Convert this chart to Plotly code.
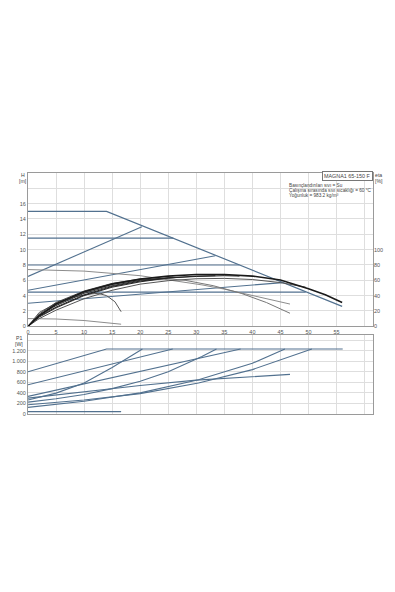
import plotly.graph_objects as go

# ---------------- data ----------------
# Head curves, H [m] vs Q [m3/h]
max_q = [0, 14, 56]
max_h = [15, 15, 2.6]
pp1_q = [0, 20.3]
pp1_h = [6.5, 13.0]
cp1_q = [0, 25.9]
cp1_h = [11.5, 11.5]
cp2_q = [0, 37.7]
cp2_h = [8.0, 8.0]
pp2_q = [0, 33.4]
pp2_h = [4.7, 9.2]
cp3_q = [0, 49.5]
cp3_h = [4.45, 4.45]
pp3_q = [0, 45.4]
pp3_h = [3.0, 5.7]
fix1_q = [0, 10, 20, 25, 31, 35, 40, 44, 46.7]
fix1_h = [7.4, 7.2, 6.6, 6.1, 5.4, 4.85, 4.05, 3.4, 2.9]
fix2_q = [0, 5, 10, 14, 16.6]
fix2_h = [1.0, 0.95, 0.75, 0.5, 0.27]

# Efficiency curves, eta [%] vs Q [m3/h]
eta_max_q = [0, 2, 5, 10, 15, 20, 25, 30, 35, 40, 45, 50, 53, 56]
eta_max_v = [0, 14, 29, 45, 55, 61.5, 65.5, 67.5, 67.5, 65.5, 60.5, 49, 41, 31]
eta_a_q = [0, 2, 5, 10, 15, 20.3]
eta_a_v = [0, 16, 31, 46, 56, 62]
eta_b_q = [0, 2, 5, 10, 15, 20, 25.9]
eta_b_v = [0, 14, 27, 43, 53, 60, 64]
eta_c_q = [0, 2, 5, 10, 15, 20, 25, 30, 33.4]
eta_c_v = [0, 12, 24, 40, 51, 58, 63, 65.5, 66]
eta_d_q = [0, 2, 5, 10, 15, 20, 25, 30, 35, 37.7]
eta_d_v = [0, 13, 25, 41, 52, 59, 63, 65, 66, 65.5]
eta_e_q = [0, 2, 5, 10, 15, 20, 25, 30, 35, 40, 45, 49.5]
eta_e_v = [0, 10, 21, 36, 47, 55, 59.5, 62, 62.5, 61, 57, 51]
eta_f_q = [0, 2, 5, 10, 15, 20, 25, 28, 33, 38, 42.5, 46.7]
eta_f_v = [0, 15, 28, 44, 55, 61, 62, 60, 53, 43, 31, 17]
eta_g_q = [0, 2, 5, 8, 11, 12.5, 14, 15.5, 16.6]
eta_g_v = [0, 18, 30, 38, 42, 43, 40, 32, 19]

# Power curves, P1 [W] vs Q [m3/h]
pmax_q = [0, 14, 56.1]
pmax_p = [800, 1230, 1230]
ppp1_q = [0, 5, 10, 15, 20.4]
ppp1_p = [265, 395, 585, 880, 1230]
pcp1_q = [0, 25.8]
pcp1_p = [553, 1230]
pcp2_q = [0, 31, 37.9]
pcp2_p = [333, 1060, 1230]
ppp2_q = [0, 5, 10, 15, 20, 25, 31, 33.6]
ppp2_p = [225, 290, 370, 480, 620, 800, 1090, 1230]
pcp3_q = [0, 10, 20, 30.4, 40, 50.6]
pcp3_p = [176, 265, 385, 585, 840, 1230]
ppp3_q = [0, 10, 20, 30.4, 40, 45.8]
ppp3_p = [126, 240, 400, 648, 960, 1230]
pfix1_q = [0, 10, 20, 30, 40, 46.7]
pfix1_p = [300, 420, 540, 640, 710, 750]
pfix2_q = [0, 16.6]
pfix2_p = [45, 45]

x_ticks = [0, 5, 10, 15, 20, 25, 30, 35, 40, 45, 50, 55, 60]
x_ticktext = ["0", "5", "10", "15", "20", "25", "30", "35", "40", "45", "50", "55", ""]
h_ticks = [0, 2, 4, 6, 8, 10, 12, 14, 16, 18, 20]
h_ticktext = ["0", "2", "4", "6", "8", "10", "12", "14", "16", "", ""]
eta_ticks = [0, 20, 40, 60, 80, 100]
eta_ticktext = ["0", "20", "40", "60", "80", "100"]
p_ticks = [0, 200, 400, 600, 800, 1000, 1200, 1400]
p_ticktext = ["0", "200", "400", "600", "800", "1.000", "1.200", ""]

# ---------------- styling ----------------
BLUE = "#52718f"
GRAY = "#8c8c8c"
BLACK = "#1a1a1a"
GRID = "#dedede"
FONT = "Liberation Sans"

fig = go.Figure()

def add(q, v, color, width, yaxis="y", xaxis="x"):
    fig.add_trace(go.Scatter(x=q, y=v, mode="lines", xaxis=xaxis, yaxis=yaxis,
                             line=dict(color=color, width=width), hoverinfo="skip",
                             showlegend=False))

# head
for q, h in [(cp1_q, cp1_h), (cp2_q, cp2_h), (cp3_q, cp3_h),
             (pp1_q, pp1_h), (pp2_q, pp2_h), (pp3_q, pp3_h)]:
    add(q, h, BLUE, 1.1)
add(fix1_q, fix1_h, GRAY, 1.0)
add(fix2_q, fix2_h, GRAY, 1.0)

# efficiency (right axis)
for q, e, c, w in [(eta_e_q, eta_e_v, "#555555", 1.0), (eta_f_q, eta_f_v, "#777777", 1.0),
                   (eta_g_q, eta_g_v, "#555555", 1.0), (eta_a_q, eta_a_v, "#444444", 1.0),
                   (eta_b_q, eta_b_v, "#333333", 1.0), (eta_c_q, eta_c_v, "#2a2a2a", 1.0),
                   (eta_d_q, eta_d_v, "#222222", 1.0), (eta_max_q, eta_max_v, BLACK, 1.6)]:
    add(q, e, c, w, yaxis="y3")
add(max_q, max_h, BLUE, 1.2)

# power
for q, p in [(pmax_q, pmax_p), (ppp1_q, ppp1_p), (pcp1_q, pcp1_p), (pcp2_q, pcp2_p),
             (ppp2_q, ppp2_p), (pcp3_q, pcp3_p), (ppp3_q, ppp3_p), (pfix1_q, pfix1_p),
             (pfix2_q, pfix2_p)]:
    add(q, p, BLUE, 1.1, yaxis="y2", xaxis="x2")

tickfont = dict(family=FONT, size=5.5, color="#555555")
axis_common = dict(showgrid=True, gridcolor=GRID, gridwidth=1, zeroline=False,
                   showline=True, linecolor="#9a9a9a", linewidth=1, mirror=True,
                   ticks="", tickfont=tickfont)

fig.update_layout(
    width=395, height=592,
    margin=dict(l=17, r=14, t=173, b=178),
    paper_bgcolor="white", plot_bgcolor="white",
    showlegend=False,
    xaxis=dict(domain=[0, 1], anchor="y", range=[0, 61.5], tickvals=x_ticks,
               ticktext=x_ticktext, **axis_common),
    yaxis=dict(domain=[0.364, 1], anchor="x", range=[0, 20], tickvals=h_ticks,
               ticktext=h_ticktext, **axis_common),
    yaxis3=dict(overlaying="y", side="right", anchor="x", range=[0, 200],
                tickvals=eta_ticks, ticktext=eta_ticktext, showgrid=False,
                zeroline=False, showline=False, ticks="", tickfont=tickfont),
    xaxis2=dict(domain=[0, 1], anchor="y2", range=[0, 61.5], tickvals=x_ticks,
                showticklabels=False, **axis_common),
    yaxis2=dict(domain=[0, 0.329], anchor="x2", range=[0, 1500], tickvals=p_ticks,
                ticktext=p_ticktext, **axis_common),
)

ann_font = dict(family=FONT, size=5.2, color="#444444")
anns = [
    dict(text="H", x=-0.014, y=19.75, xref="paper", yref="y"),
    dict(text="[m]", x=-0.014, y=19.0, xref="paper", yref="y"),
    dict(text="eta", x=1.017, y=19.75, xref="paper", yref="y"),
    dict(text="[%]", x=1.017, y=19.0, xref="paper", yref="y"),
    dict(text="P1", x=-0.026, y=1430, xref="paper", yref="y2"),
    dict(text="[W]", x=-0.026, y=1330, xref="paper", yref="y2"),
    dict(text="Q [m³/h]", x=59.6, y=-0.45, xref="x", yref="y"),
]
for a in anns:
    fig.add_annotation(showarrow=False, xanchor="center", yanchor="middle",
                       font=ann_font, **a)

fig.add_annotation(text="MAGNA1 65-150 F", x=1.0, y=19.55, xref="paper", yref="y",
                   xanchor="right", yanchor="middle", showarrow=False,
                   font=dict(family=FONT, size=5.4, color="#444444"),
                   bordercolor="#777777", borderwidth=1, borderpad=1, bgcolor="white")

info_lines = ["Basınçlandırılan sıvı = Su",
              "Çalışma sırasında sıvı sıcaklığı = 60 °C",
              "Yoğunluk = 983.2 kg/m³"]
for i, t in enumerate(info_lines):
    fig.add_annotation(text=t, x=0.75, y=18.4 - 0.66 * i, xref="paper", yref="y",
                       xanchor="left", yanchor="middle", showarrow=False,
                       font=dict(family=FONT, size=4.7, color="#444444"))

fig.write_html("out.html")
